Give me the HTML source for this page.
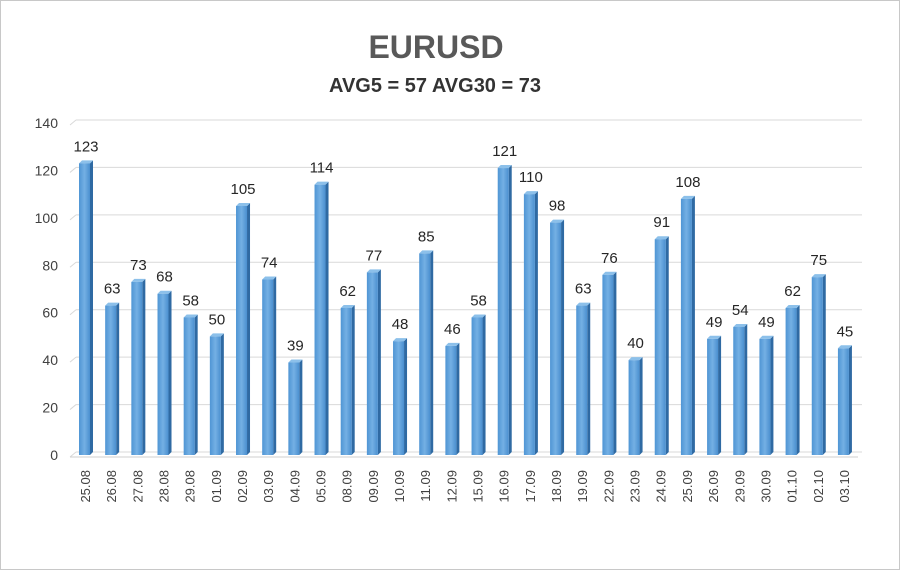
<!DOCTYPE html>
<html><head><meta charset="utf-8"><style>
body{margin:0;background:#fff}
svg{display:block}
text{font-family:"Liberation Sans",sans-serif}
</style></head><body>
<svg id="c" width="900" height="570" viewBox="0 0 900 570" xmlns="http://www.w3.org/2000/svg">
<defs>
<linearGradient id="g" x1="0" x2="1" y1="0" y2="0">
<stop offset="0" stop-color="#4f95d4"/><stop offset="0.5" stop-color="#74b0e4"/><stop offset="1" stop-color="#4a8fcf"/>
</linearGradient>
</defs>
<rect x="0.5" y="0.5" width="899" height="569" fill="#fff" stroke="#c8c8c8"/>
<text x="436" y="58" font-size="32" font-weight="bold" fill="#595959" text-anchor="middle">EURUSD</text>
<text x="435" y="92" font-size="20" font-weight="bold" fill="#333" text-anchor="middle">AVG5 = 57 AVG30 = 73</text>
<g id="grid"></g>
<g id="bars"></g>
</svg>
<script>
(function(){
var vals=[123,63,73,68,58,50,105,74,39,114,62,77,48,85,46,58,121,110,98,63,76,40,91,108,49,54,49,62,75,45];
var labs=["25.08","26.08","27.08","28.08","29.08","01.09","02.09","03.09","04.09","05.09","08.09","09.09","10.09","11.09","12.09","15.09","16.09","17.09","18.09","19.09","22.09","23.09","24.09","25.09","26.09","29.09","30.09","01.10","02.10","03.10"];
var ns="http://www.w3.org/2000/svg";
function el(t,a,p,txt){var e=document.createElementNS(ns,t);for(var k in a)e.setAttribute(k,a[k]);if(txt!==undefined)e.textContent=txt;p.appendChild(e);return e;}
var G=document.getElementById("grid"),B=document.getElementById("bars");
var y0=455,sc=332/140;
for(var i=0;i<=7;i++){var yy=y0-i*20*sc;
el("line",{x1:70,y1:yy+2,x2:76,y2:yy-3,stroke:"#d9d9d9","stroke-width":1},G);
el("line",{x1:76,y1:yy-3,x2:862,y2:yy-3,stroke:"#d9d9d9","stroke-width":1},G);
el("text",{x:58,y:yy+5,"font-size":14,fill:"#404040","text-anchor":"end"},G,String(i*20));}
el("line",{x1:70,y1:y0+2,x2:858,y2:y0+2,stroke:"#cfcfcf"},G);
for(var i=0;i<30;i++){var x=79+i*26.17,h=vals[i]*sc,ty=y0-h,w=11;
el("polygon",{points:(x+w)+","+ty+" "+(x+w+3)+","+(ty-3)+" "+(x+w+3)+","+(y0-3)+" "+(x+w)+","+y0,fill:"#2f6aa3"},B);
el("polygon",{points:x+","+ty+" "+(x+3)+","+(ty-3)+" "+(x+w+3)+","+(ty-3)+" "+(x+w)+","+ty,fill:"#8cc0ea"},B);
el("rect",{x:x,y:ty,width:w,height:h,fill:"url(#g)"},B);
el("text",{x:x+7,y:ty-12,"font-size":15,fill:"#262626","text-anchor":"middle"},B,String(vals[i]));
el("text",{x:0,y:0,"font-size":13,fill:"#404040","text-anchor":"end",transform:"translate("+(x+11)+",470) rotate(-90)"},B,labs[i]);}
})();
</script>
</body></html>
